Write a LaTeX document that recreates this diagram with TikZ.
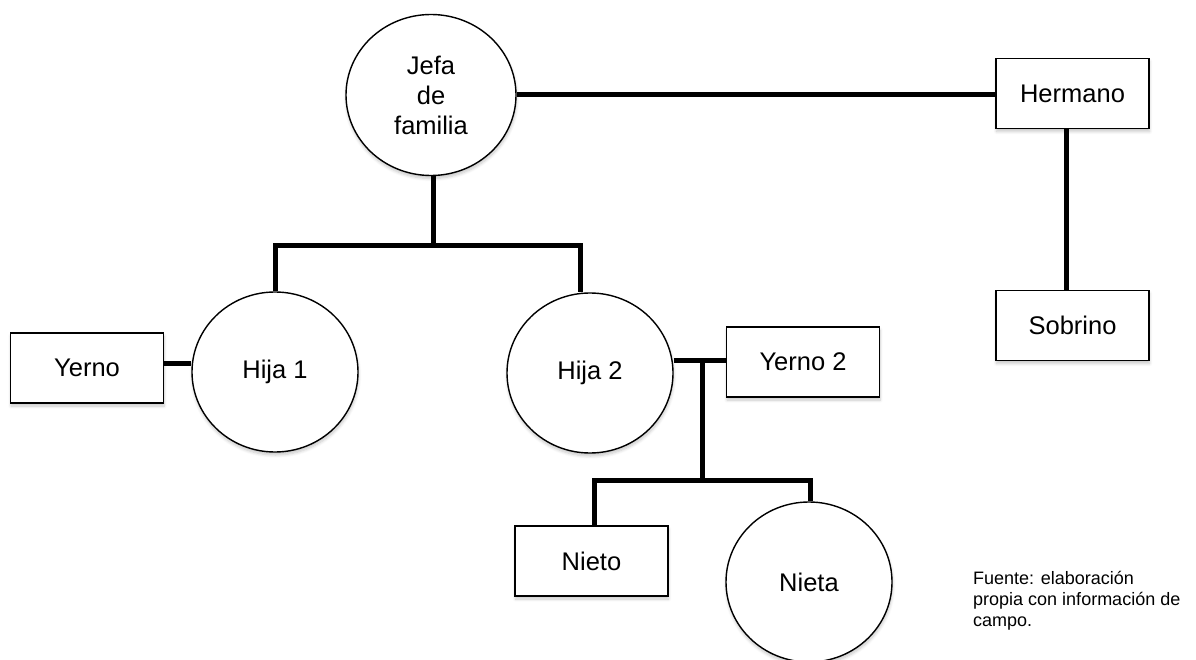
\documentclass[tikz,border=0pt]{standalone}
\usepackage{fontspec}
\setmainfont{Liberation Sans}
\usetikzlibrary{shapes.geometric,shadows.blur}
\begin{document}
\begin{tikzpicture}[x=1pt,y=-1pt,
  shadowed/.style={blur shadow={shadow blur steps=6,shadow xshift=0.5pt,shadow yshift=-3pt,shadow blur radius=3pt,shadow opacity=22}},
  person/.style={draw=black,line width=1.4pt,fill=white,shadowed,inner sep=0pt,
     font=\fontsize{25.5}{30}\selectfont,align=center},
  circ/.style={person,ellipse,minimum width=166pt,minimum height=160pt},
  boxn/.style={person,rectangle,minimum width=153pt,minimum height=70pt},
  conn/.style={line width=5pt,draw=black,line join=miter}]
\useasboundingbox (0,0) rectangle (1196,660);
% nodes
\node[circ,minimum width=170pt,minimum height=161pt] (jefa) at (431,95) {Jefa\\de\\familia};
\node[boxn] (hermano) at (1072.5,93.5) {Hermano};
\node[boxn] (sobrino) at (1072.5,325.5) {Sobrino};
\node[circ] (hija1) at (275,372) {Hija 1};
\node[circ] (hija2) at (590,373) {Hija 2};
\node[boxn] (yerno) at (87,368) {Yerno};
\node[boxn] (yerno2) at (803,362) {Yerno 2};
\node[boxn] (nieto) at (591.5,561) {Nieto};
\node[circ] (nieta) at (809,582) {Nieta};
% junction coordinates
\coordinate (barL) at (275,246);
\coordinate (barR) at (580,246);
\coordinate (jv) at (433,246);
\coordinate (hjy) at (1066,129);
\coordinate (yh) at (163,363);
\coordinate (y2j) at (702,360);
\coordinate (bar2L) at (594,480);
\coordinate (bar2R) at (810,480);
\coordinate (bar2M) at (702,480);
% connectors
\draw[conn] (jefa.east) -- (jefa.east -| hermano.west);
\draw[conn] (hermano.south -| hjy) -- (sobrino.north -| hjy);
\draw[conn] (jefa.south -| jv) -- (jv);
\draw[conn] (hija1.north) -- (barL) -- (barR) -- (hija2.north -| barR);
\draw[conn] (yerno.east |- yh) -- (hija1.west |- yh);
\draw[conn] (hija2.east |- y2j) -- (yerno2.west |- y2j);
\draw[conn] (y2j) -- (bar2M);
\draw[conn] (nieto.north -| bar2L) -- (bar2L) -- (bar2R) -- (nieta.north -| bar2R);
% source note
\node[anchor=base west,align=left,inner sep=0pt,font=\fontsize{18}{21}\selectfont] (fuente) at (973,626)
  {Fuente: elaboración\\propia con información de\\campo.};
\end{tikzpicture}
\end{document}
